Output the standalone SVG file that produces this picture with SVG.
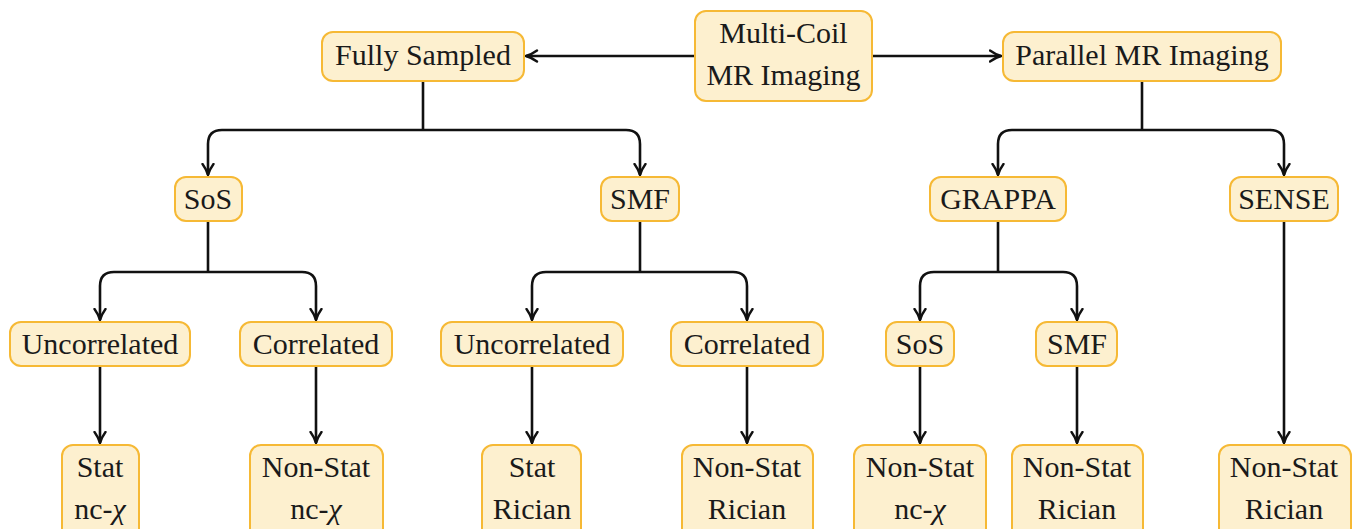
<svg xmlns="http://www.w3.org/2000/svg" width="1361" height="529" viewBox="0 0 1361 529">
<defs>
<marker id="ah" viewBox="0 0 14 14" refX="12.5" refY="7" markerWidth="14" markerHeight="14" markerUnits="userSpaceOnUse" orient="auto">
<path d="M1.5,1.5 Q7,5.5 12.5,7 Q7,8.5 1.5,12.5" fill="none" stroke="#111" stroke-width="2.4" stroke-linecap="round"/>
</marker>
</defs>
<style>
.n{fill:#fdf0cf;stroke:#f6b935;stroke-width:2}
.t{font-family:"Liberation Serif","DejaVu Serif",serif;font-size:30px;fill:#1a1a1a;text-anchor:middle}
.c{fill:none;stroke:#111;stroke-width:2.6;stroke-linejoin:round}
.a{marker-end:url(#ah)}
</style>
<rect width="1361" height="529" fill="#fff"/>
<g id="connectors">
<path class="c a" d="M695,56 H526"/>
<path class="c a" d="M872,56 H1001"/>
<path class="c" d="M423,81 V130"/>
<path class="c a" d="M423,130 H222 Q208,130 208,144 V175"/>
<path class="c a" d="M423,130 H626 Q640,130 640,144 V175"/>
<path class="c" d="M1142,81 V130"/>
<path class="c a" d="M1142,130 H1012 Q998,130 998,144 V175"/>
<path class="c a" d="M1142,130 H1270 Q1284,130 1284,144 V175"/>
<path class="c" d="M208,221 V272"/>
<path class="c a" d="M208,272 H114 Q100,272 100,286 V320"/>
<path class="c a" d="M208,272 H302 Q316,272 316,286 V320"/>
<path class="c" d="M640,221 V272"/>
<path class="c a" d="M640,272 H546 Q532,272 532,286 V320"/>
<path class="c a" d="M640,272 H733 Q747,272 747,286 V320"/>
<path class="c" d="M998,221 V272"/>
<path class="c a" d="M998,272 H934 Q920,272 920,286 V320"/>
<path class="c a" d="M998,272 H1063 Q1077,272 1077,286 V320"/>
<path class="c a" d="M100,366 V443"/>
<path class="c a" d="M316,366 V443"/>
<path class="c a" d="M532,366 V443"/>
<path class="c a" d="M747,366 V443"/>
<path class="c a" d="M920,366 V443"/>
<path class="c a" d="M1077,366 V443"/>
<path class="c a" d="M1284,221 V443"/>
</g>
<g id="multicoil"><rect class="n" x="695" y="11" width="177" height="90" rx="11"/><text class="t" x="783.5" y="43">Multi-Coil</text><text class="t" x="783.5" y="85">MR Imaging</text></g>
<g id="fully"><rect class="n" x="322" y="32" width="202" height="49" rx="11"/><text class="t" x="423" y="65">Fully Sampled</text></g>
<g id="parallel"><rect class="n" x="1003" y="32" width="278" height="49" rx="11"/><text class="t" x="1142" y="65">Parallel MR Imaging</text></g>
<g id="sos1"><rect class="n" x="175" y="177" width="67" height="44" rx="11"/><text class="t" x="208" y="209">SoS</text></g>
<g id="smf1"><rect class="n" x="601" y="177" width="78" height="44" rx="11"/><text class="t" x="640" y="209">SMF</text></g>
<g id="grappa"><rect class="n" x="930" y="177" width="136" height="44" rx="11"/><text class="t" x="998" y="209">GRAPPA</text></g>
<g id="sense"><rect class="n" x="1230" y="177" width="108" height="44" rx="11"/><text class="t" x="1284" y="209">SENSE</text></g>
<g id="uncor1"><rect class="n" x="10" y="322" width="180" height="44" rx="11"/><text class="t" x="100" y="354">Uncorrelated</text></g>
<g id="cor1"><rect class="n" x="240" y="322" width="152" height="44" rx="11"/><text class="t" x="316" y="354">Correlated</text></g>
<g id="uncor2"><rect class="n" x="441" y="322" width="182" height="44" rx="11"/><text class="t" x="532" y="354">Uncorrelated</text></g>
<g id="cor2"><rect class="n" x="671" y="322" width="152" height="44" rx="11"/><text class="t" x="747" y="354">Correlated</text></g>
<g id="sos2"><rect class="n" x="886" y="322" width="68" height="44" rx="11"/><text class="t" x="920" y="354">SoS</text></g>
<g id="smf2"><rect class="n" x="1036" y="322" width="81" height="44" rx="11"/><text class="t" x="1077" y="354">SMF</text></g>
<g id="leaf1"><rect class="n" x="62" y="445" width="77" height="100" rx="11"/><text class="t" x="100" y="477">Stat</text><text class="t" x="100" y="519">nc-<tspan font-style="italic">χ</tspan></text></g>
<g id="leaf2"><rect class="n" x="250" y="445" width="133" height="100" rx="11"/><text class="t" x="316" y="477">Non-Stat</text><text class="t" x="316" y="519">nc-<tspan font-style="italic">χ</tspan></text></g>
<g id="leaf3"><rect class="n" x="482" y="445" width="99" height="100" rx="11"/><text class="t" x="532" y="477">Stat</text><text class="t" x="532" y="519">Rician</text></g>
<g id="leaf4"><rect class="n" x="682" y="445" width="131" height="100" rx="11"/><text class="t" x="747" y="477">Non-Stat</text><text class="t" x="747" y="519">Rician</text></g>
<g id="leaf5"><rect class="n" x="854" y="445" width="132" height="100" rx="11"/><text class="t" x="920" y="477">Non-Stat</text><text class="t" x="920" y="519">nc-<tspan font-style="italic">χ</tspan></text></g>
<g id="leaf6"><rect class="n" x="1012" y="445" width="131" height="100" rx="11"/><text class="t" x="1077" y="477">Non-Stat</text><text class="t" x="1077" y="519">Rician</text></g>
<g id="leaf7"><rect class="n" x="1219" y="445" width="132" height="100" rx="11"/><text class="t" x="1284" y="477">Non-Stat</text><text class="t" x="1284" y="519">Rician</text></g>
</svg>
